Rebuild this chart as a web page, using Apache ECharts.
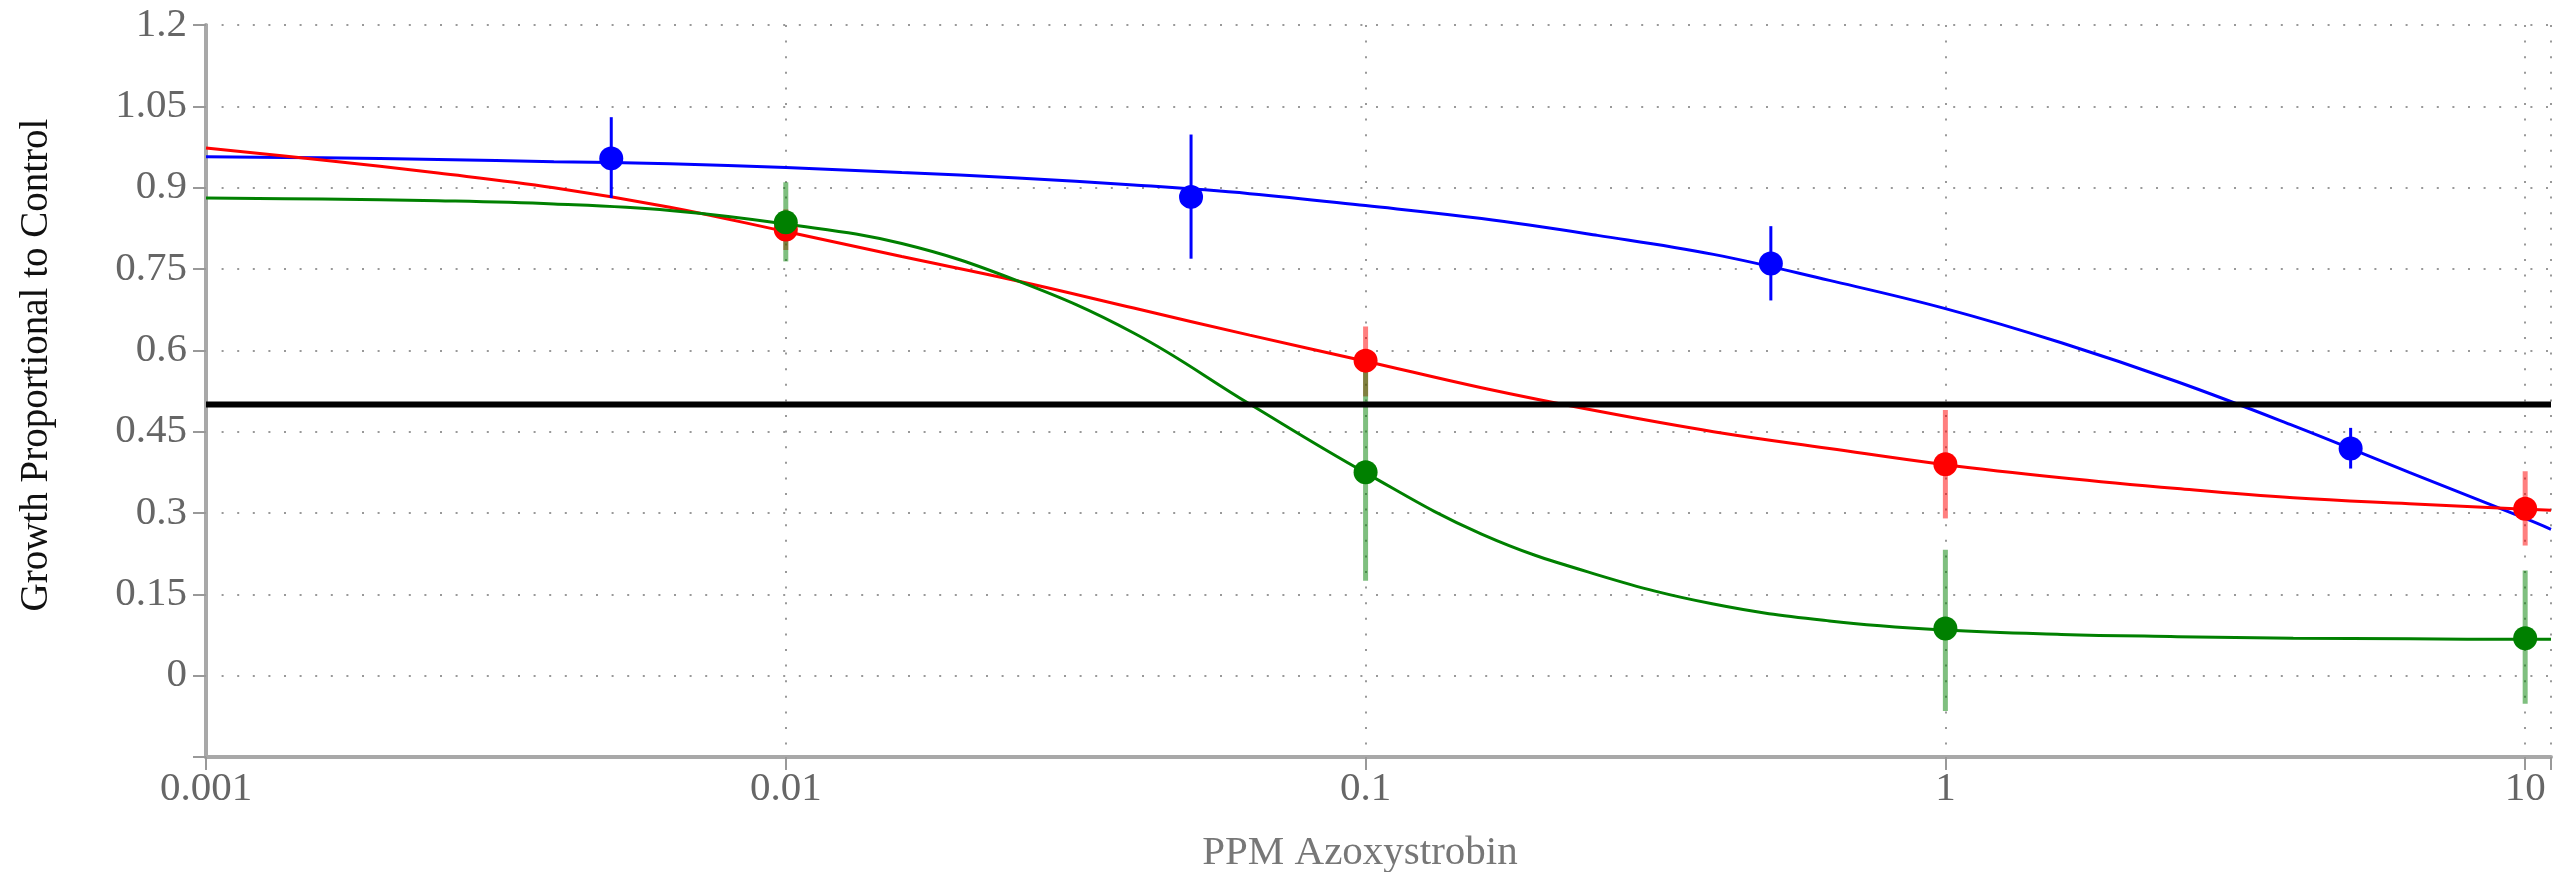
<!DOCTYPE html>
<html><head><meta charset="utf-8">
<script src="https://cdn.jsdelivr.net/npm/echarts@6/dist/echarts.min.js"></script>
<style>html,body{margin:0;padding:0;background:#fff}#c{width:2554px;height:872px}</style>
</head><body><div id="c"></div>
<script>
// ---------- data ----------
const xAxisTitle = 'PPM Azoxystrobin';
const yAxisTitle = 'Growth Proportional to Control';
const xTickLabels = ['0.001', '0.01', '0.1', '1', '10'];
const yTickLabels = ['0', '0.15', '0.3', '0.45', '0.6', '0.75', '0.9', '1.05', '1.2'];

// fitted curves (values at evenly spaced log positions)
const curveX     = [0.001, 0.001585, 0.002512, 0.003981, 0.00631, 0.01, 0.01585, 0.02512, 0.03981, 0.0631, 0.1, 0.1585, 0.2512, 0.3981, 0.631, 1, 1.585, 2.512, 3.981, 6.31, 10, 11.08];
const blueCurve  = [0.957, 0.955, 0.952, 0.948, 0.944, 0.937, 0.928, 0.918, 0.905, 0.889, 0.867, 0.843, 0.812, 0.777, 0.729, 0.677, 0.614, 0.542, 0.461, 0.375, 0.290, 0.270];
const redCurve   = [0.973, 0.951, 0.927, 0.900, 0.864, 0.819, 0.773, 0.728, 0.678, 0.628, 0.580, 0.531, 0.488, 0.450, 0.419, 0.389, 0.365, 0.345, 0.328, 0.317, 0.307, 0.305];
const greenCurve = [0.881, 0.879, 0.876, 0.870, 0.858, 0.833, 0.797, 0.728, 0.632, 0.501, 0.374, 0.261, 0.186, 0.132, 0.101, 0.084, 0.076, 0.072, 0.069, 0.068, 0.067, 0.067];

// observed points with error bars
const blueX    = [0.005, 0.05, 0.5, 5];
const blueY    = [0.954, 0.883, 0.760, 0.419];
const blueLow  = [0.881, 0.769, 0.692, 0.382];
const blueHigh = [1.030, 0.998, 0.829, 0.457];

const redX    = [0.01, 0.1, 1, 10];
const redY    = [0.823, 0.581, 0.390, 0.308];
const redLow  = [0.785, 0.515, 0.290, 0.240];
const redHigh = [0.860, 0.644, 0.490, 0.377];

const greenX    = [0.01, 0.1, 1, 10];
const greenY    = [0.836, 0.375, 0.087, 0.069];
const greenLow  = [0.764, 0.175, -0.065, -0.052];
const greenHigh = [0.910, 0.571, 0.232, 0.194];

const thresholdX = [0.001, 11.08];
const thresholdY = 0.5;

// ---------- chart ----------
const FONT = '"Liberation Serif", "Times New Roman", serif';
const zip = (xs, ys) => xs.map((x, i) => [x, ys[i]]);

function curveSeries(name, ys, color) {
  return { type: 'line', name, z: 2, data: zip(curveX, ys), showSymbol: false, symbol: 'none',
    smooth: 0.4, lineStyle: { color, width: 3 }, silent: true, clip: true };
}
function errorSeries(name, xs, lows, highs, color, width, opacity) {
  return { type: 'custom', name, z: 3, silent: true, clip: true,
    data: xs.map((x, i) => [x, lows[i], highs[i]]),
    encode: { x: 0, y: [1, 2] },
    renderItem: (params, api) => {
      const p1 = api.coord([api.value(0), api.value(1)]);
      const p2 = api.coord([api.value(0), api.value(2)]);
      return { type: 'line', shape: { x1: p1[0], y1: p1[1], x2: p2[0], y2: p2[1] },
        style: { stroke: color, lineWidth: width, opacity: opacity } };
    } };
}
function pointSeries(name, xs, ys, color) {
  return { type: 'scatter', name, z: 4, data: zip(xs, ys), symbol: 'circle', symbolSize: 24,
    itemStyle: { color, opacity: 1 }, silent: true };
}

const gridDots = { color: '#999', width: 2, type: [2, 13.6] };

const option = {
  animation: false,
  backgroundColor: '#fff',
  grid: { left: 206, right: 0, top: 25, bottom: 115, containLabel: false },
  xAxis: {
    type: 'log', logBase: 10, min: 0.001, max: 11.08,
    axisLine: { show: true, onZero: false, lineStyle: { color: '#a8a8a8', width: 4 } },
    axisTick: { show: true, length: 13, lineStyle: { color: '#999', width: 2 } },
    minorTick: { show: false },
    splitLine: { show: true, lineStyle: gridDots },
    axisLabel: { margin: 12, color: '#666', fontSize: 41, fontFamily: FONT,
      formatter: v => { const s = String(+Number(v).toPrecision(3)); return xTickLabels.includes(s) ? s : ''; } }
  },
  yAxis: {
    type: 'value', min: -0.15, max: 1.2, interval: 0.15,
    axisLine: { show: true, onZero: false, lineStyle: { color: '#a8a8a8', width: 4 } },
    axisTick: { show: true, length: 13, lineStyle: { color: '#999', width: 2 } },
    splitLine: { show: true, lineStyle: gridDots },
    axisLabel: { margin: 19, color: '#666', fontSize: 41, fontFamily: FONT,
      formatter: v => { const s = String(+Number(v).toFixed(2)); return yTickLabels.includes(s) ? s : ''; } }
  },
  graphic: [
    { type: 'text', x: 37, y: 365, rotation: Math.PI / 2, silent: true,
      style: { text: yAxisTitle, font: '39px ' + FONT, fill: '#111', align: 'center', verticalAlign: 'middle',
        textAlign: 'center', textVerticalAlign: 'middle' } },
    { type: 'text', x: 1360, y: 853, silent: true,
      style: { text: xAxisTitle, font: '41px ' + FONT, fill: '#777', align: 'center', verticalAlign: 'middle',
        textAlign: 'center', textVerticalAlign: 'middle' } }
  ],
  series: [
    curveSeries('blue fit', blueCurve, '#0000ff'),
    curveSeries('red fit', redCurve, '#ff0000'),
    curveSeries('green fit', greenCurve, '#008000'),
    errorSeries('blue err', blueX, blueLow, blueHigh, '#0000ff', 3, 1),
    errorSeries('red err', redX, redLow, redHigh, '#ff0000', 5, 0.5),
    errorSeries('green err', greenX, greenLow, greenHigh, '#008000', 5, 0.5),
    pointSeries('blue', blueX, blueY, '#0000ff'),
    pointSeries('red', redX, redY, '#ff0000'),
    pointSeries('green', greenX, greenY, '#008000'),
    { type: 'line', name: 'EC50', z: 5, data: thresholdX.map(x => [x, thresholdY]), symbol: 'none',
      lineStyle: { color: '#000', width: 6 }, silent: true }
  ]
};
echarts.init(document.getElementById('c'), null, { renderer: 'canvas' }).setOption(option);
</script>
</body></html>
